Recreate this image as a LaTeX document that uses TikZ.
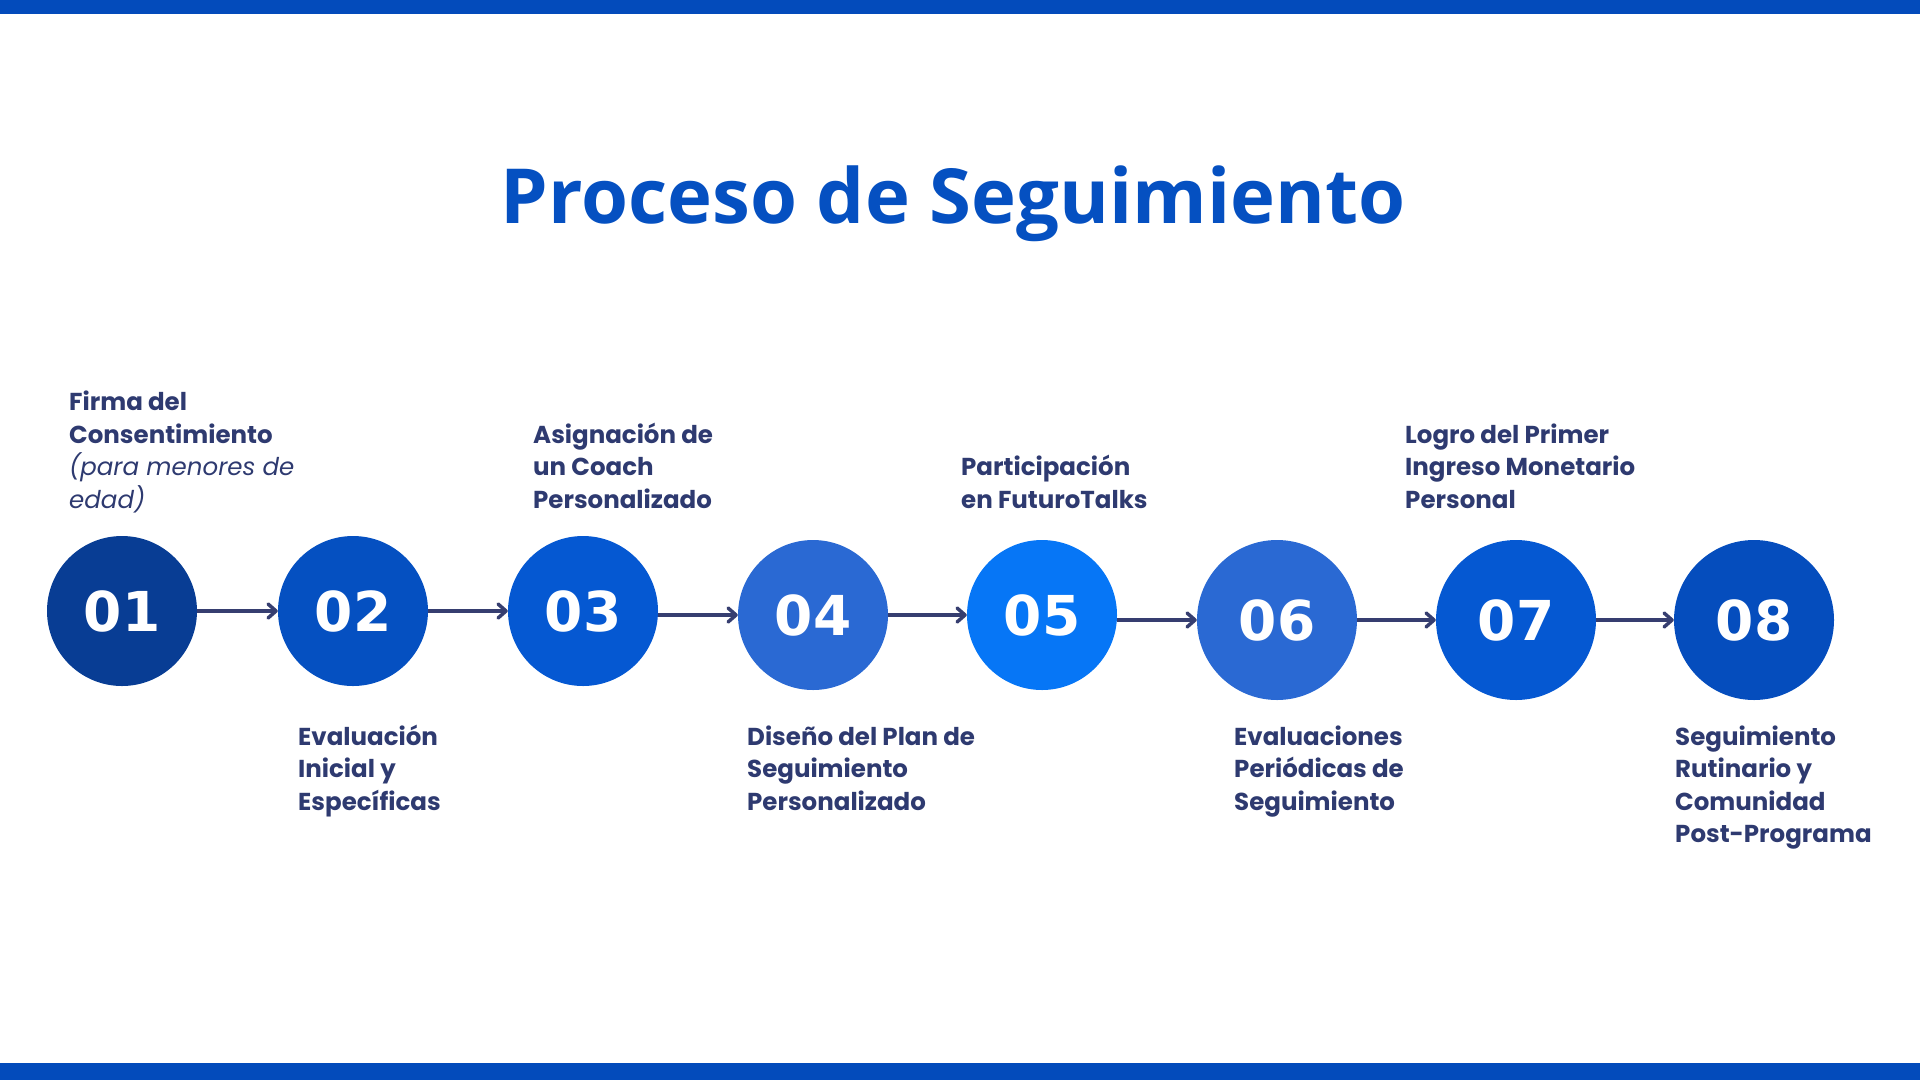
\documentclass[tikz,border=0pt]{standalone}
\usepackage{fontspec}
\setmainfont{Poppins}
\newfontfamily\titlefont{Open Sans}
\newfontfamily\numfont{DejaVu Sans}
\usetikzlibrary{arrows.meta}
\definecolor{barc}{RGB}{3,75,187}
\definecolor{titc}{RGB}{5,80,193}
\definecolor{lblc}{RGB}{46,58,112}
\definecolor{arrc}{RGB}{54,62,112}
\definecolor{cA}{RGB}{8,61,148}
\definecolor{cB}{RGB}{5,80,193}
\definecolor{cC}{RGB}{5,88,210}
\definecolor{cD}{RGB}{42,105,211}
\definecolor{cE}{RGB}{6,118,246}
\definecolor{cF}{RGB}{5,77,189}

\begin{document}
\begin{tikzpicture}[x=1pt,y=-1pt,
  num/.style={circle, inner sep=0pt, minimum size=150pt, text=white,
    font=\numfont\bfseries\fontsize{55}{60}\selectfont},
  big/.style={minimum size=160pt},
  lbl/.style={anchor=base west, align=left, inner sep=0pt, text=lblc,
    font=\bfseries\fontsize{24.5}{32.5}\selectfont},
  flecha/.style={draw=arrc, line width=3.5pt, ->,
    >={Straight Barb[length=8pt,width=14pt,line cap=round,line join=round]}}]
  \useasboundingbox (0,0) rectangle (1920,1080);
  \fill[barc] (0,0) rectangle (1920,14);
  \fill[barc] (0,1063) rectangle (1920,1080);

  \node[anchor=base, inner sep=0pt, text=titc,
    font=\titlefont\bfseries\fontsize{76}{90}\selectfont] (title) at (953,223)
    {Proceso de Seguimiento};

  \node[num, fill=cA] (s1) at (122,611) {01};
  \node[num, fill=cB] (s2) at (353,611) {02};
  \node[num, fill=cC] (s3) at (583,611) {03};
  \node[num, fill=cD] (s4) at (813,615) {04};
  \node[num, fill=cE] (s5) at (1042,615) {05};
  \node[num, big, fill=cD] (s6) at (1277,620) {06};
  \node[num, big, fill=cC] (s7) at (1516,620) {07};
  \node[num, big, fill=cF] (s8) at (1754,620) {08};

  \path[every edge/.style=flecha]
  (s1) edge (s2)
  (s2) edge (s3)
  (s3.east |- s4) edge (s4)
  (s4) edge (s5)
  (s5.east |- s6) edge (s6)
  (s6) edge (s7)
  (s7) edge (s8);

  % textos de cada etapa
  \node[lbl] (t1) at (69,508) {Firma del\\Consentimiento\\
    {\mdseries\itshape (para menores de}\\{\mdseries\itshape edad)}};
  \node[lbl] (t2) at (298,810) {Evaluación\\Inicial y\\Específicas};
  \node[lbl] (t3) at (533,508) {Asignación de\\un Coach\\Personalizado};
  \node[lbl] (t4) at (747,810) {Diseño del Plan de\\Seguimiento\\Personalizado};
  \node[lbl] (t5) at (961,508) {Participación\\en FuturoTalks};
  \node[lbl] (t6) at (1234,810) {Evaluaciones\\Periódicas de\\Seguimiento};
  \node[lbl] (t7) at (1405,508) {Logro del Primer\\Ingreso Monetario\\Personal};
  \node[lbl] (t8) at (1675,842.5) {Seguimiento\\Rutinario y\\Comunidad\\Post-Programa};
\end{tikzpicture}
\end{document}
